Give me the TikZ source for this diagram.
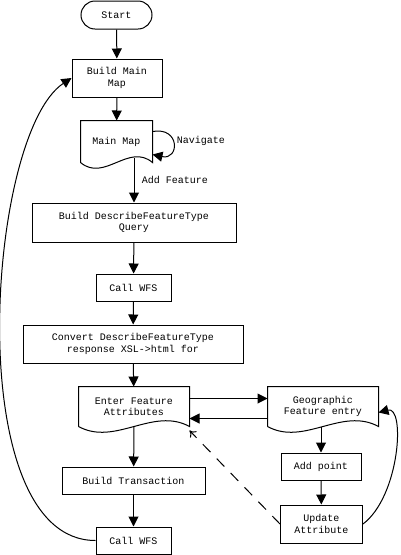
\documentclass[tikz,border=0pt]{standalone}
\usepackage{fontspec}
\setmonofont{Liberation Mono}
\usetikzlibrary{arrows.meta, calc, positioning}
\newcommand{\flowfont}{\ttfamily\fontsize{10}{11.5}\selectfont}
\tikzset{
    startNode/.style={draw, rounded corners=14pt, minimum width=71pt, minimum height=28pt, font=\flowfont},
    procNode/.style={draw, align=center, inner sep=0pt, font=\flowfont},
    docNode/.style={align=center, inner sep=0pt, font=\flowfont},
    flowEdge/.style={->, >={Triangle[length=10pt, width=10pt]}},
    flowDashed/.style={->, >={To[length=6pt, width=9pt]}, dash pattern=on 11pt off 9pt},
    flowLabel/.style={font=\flowfont},
}
\newcommand{\drawDoc}[1]{
    \draw (#1.south west) -- (#1.north west) -- (#1.north east) -- (#1.south east)
        .. controls ($(#1.south east)!0.33!(#1.south west)+(0,-20)$) and ($(#1.south east)!0.67!(#1.south west)+(0,20)$) .. (#1.south west);
}
\begin{document}
\begin{tikzpicture}[x=1pt, y=-1pt, line width=1pt]
        \useasboundingbox (0,0) rectangle (400,555);

        % main column
        \node[startNode] (Start) at (116.5,15) {Start};
        \node[procNode, minimum width=90pt, minimum height=38pt] (BuildMap) at (117,78) {Build Main\\Map};
        \node[docNode, minimum width=71pt, minimum height=41pt] (MainMap) at (116.5,141.5) {Main Map};
        \node[procNode, minimum width=204pt, minimum height=39pt] (DescQuery) at (134,222.5) {Build DescribeFeatureType\\Query};
        \node[procNode, minimum width=75pt, minimum height=27pt] (CallA) at (133.5,287.5) {Call WFS};
        \node[procNode, minimum width=220pt, minimum height=38pt] (Convert) at (133,344) {Convert DescribeFeatureType\\response XSL->html for};
        \node[docNode, minimum width=110pt, minimum height=39pt] (Enter) at (134,406.5) {Enter Feature\\Attributes};
        \node[procNode, minimum width=143pt, minimum height=27pt] (BuildTrans) at (133.5,480.5) {Build Transaction};
        \node[procNode, minimum width=75pt, minimum height=27pt] (CallB) at (133.5,540.5) {Call WFS};

        % right column
        \node[docNode, minimum width=110pt, minimum height=39pt] (Geo) at (323,406.5) {Geographic\\Feature entry};
        \node[procNode, minimum width=80pt, minimum height=27pt] (AddPoint) at (321,466.5) {Add point};
        \node[procNode, minimum width=82pt, minimum height=38pt] (Update) at (321.5,524) {Update\\Attribute};

        \drawDoc{MainMap}
        \drawDoc{Enter}
        \drawDoc{Geo}

        \draw[flowEdge] (Start) -- (BuildMap);
        \draw[flowEdge] (BuildMap) -- (MainMap);
        \draw[flowEdge] ([yshift=10pt]MainMap.east) .. controls +(28,-5) and +(27,6) .. node[flowLabel, right, yshift=2pt] {Navigate} ([yshift=-13pt]MainMap.east);
        \draw[flowEdge] ([yshift=5pt]MainMap.south -| DescQuery.north) -- node[flowLabel, right, xshift=4pt] {Add Feature} (DescQuery.north);
        \draw[flowEdge] (DescQuery) -- (CallA);
        \draw[flowEdge] (CallA) -- (Convert);
        \draw[flowEdge] (Convert) -- (Enter);
        \draw[flowEdge] (Enter.south) -- (BuildTrans);
        \draw[flowEdge] (BuildTrans) -- (CallB);
        \draw[flowEdge] (CallB.west) .. controls +(-136,0) and +(-85,56) .. (BuildMap.west);

        \draw[flowEdge] ([yshift=8pt]Enter.east) -- ([yshift=8pt]Geo.west);
        \draw[flowEdge] ([yshift=-12pt]Geo.west) -- ([yshift=-12pt]Enter.east);
        \draw[flowEdge] (Geo.south -| AddPoint.north) -- (AddPoint);
        \draw[flowEdge] (AddPoint) -- (Update);
        \draw[flowEdge] (Update.east) .. controls +(37,-28) and +(27,-7) .. ([yshift=-6pt]Geo.east);
        \draw[flowDashed] (Update.west) -- ([yshift=-4pt]Enter.south east);

    \end{tikzpicture}
\end{document}
